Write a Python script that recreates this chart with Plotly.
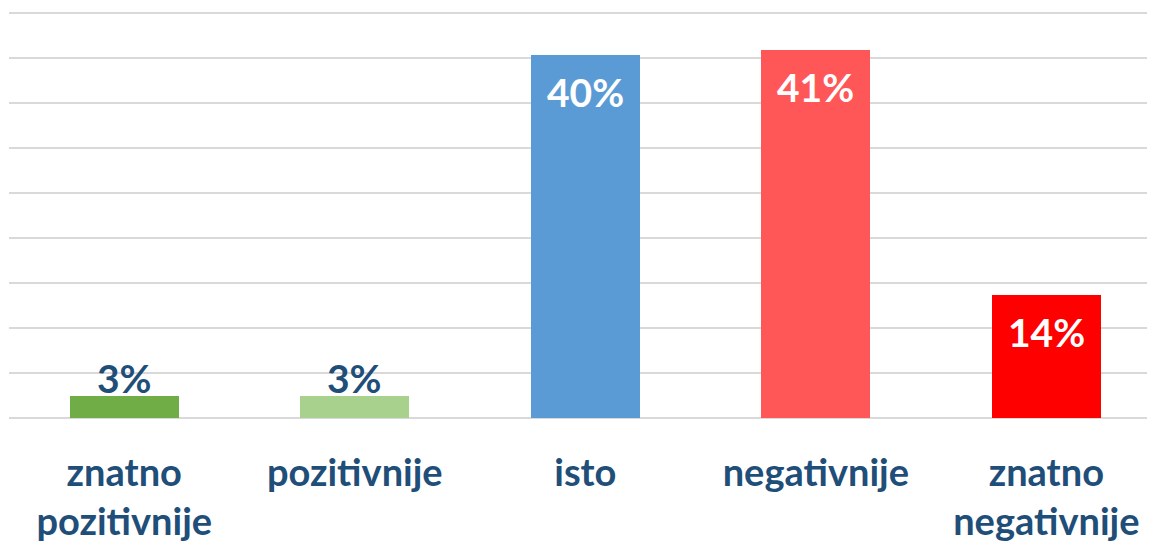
import plotly.graph_objects as go

categories = ["znatno<br>pozitivnije", "pozitivnije", "isto", "negativnije", "znatno<br>negativnije"]
values = [2.5, 2.5, 40.4, 40.9, 13.7]
labels = ["3%", "3%", "40%", "41%", "14%"]
colors = ["#70AD47", "#A9D18E", "#5B9BD5", "#FF5757", "#FF0000"]
inside = [False, False, True, True, True]

DARK = "#1F4E79"
FONT = "Lato"

fig = go.Figure(go.Bar(
    x=list(range(len(categories))), y=values,
    marker=dict(color=colors, line=dict(width=0)),
    width=0.473, hoverinfo="skip",
))

annotations = []
for i, (v, lab, ins) in enumerate(zip(values, labels, inside)):
    annotations.append(dict(
        x=i, y=v, xref="x", yref="y", text=lab, showarrow=False,
        yanchor="middle", yshift=-37 if ins else 18,
        font=dict(family=FONT, size=39, weight="bold", color="white" if ins else DARK),
    ))

fig.update_layout(
    width=1155, height=546,
    margin=dict(l=1, r=0, t=1, b=136),
    paper_bgcolor="white", plot_bgcolor="white",
    showlegend=False, bargap=0,
    annotations=annotations,
    xaxis=dict(
        range=[-0.5, 4.506], tickmode="array",
        tickvals=list(range(len(categories))), ticktext=categories,
        showgrid=False, zeroline=False, showline=False, ticks="",
        tickfont=dict(family=FONT, size=38, weight="bold", color=DARK),
        ticklabelstandoff=29, automargin=False,
    ),
    yaxis=dict(
        range=[0, 45.5], dtick=5, showticklabels=False,
        showgrid=True, gridcolor="#D9D9D9", gridwidth=2,
        zeroline=True, zerolinecolor="#D9D9D9", zerolinewidth=2,
        ticks="", automargin=False,
    ),
)

fig.write_html("out.html")
